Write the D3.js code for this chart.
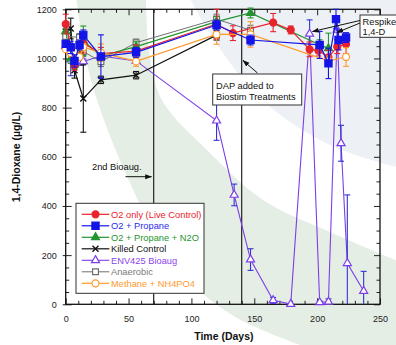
<!DOCTYPE html>
<html><head><meta charset="utf-8">
<script src="https://cdn.jsdelivr.net/npm/d3@7"></script>
<style>body{margin:0;background:#fff;} svg{display:block;font-family:"Liberation Sans",Arial,sans-serif;}</style>
</head><body><svg id="c" width="396" height="345"></svg>
<script>
// ---- data ----
const xTickLabels = [0, 50, 100, 150, 200, 250];
const yTickLabels = [0, 200, 400, 600, 800, 1000, 1200];

const o2Days = [0, 7, 14, 28, 56, 120, 133, 165, 179, 194, 201, 209, 216, 223];
const o2Vals = [1140, 972, 1062, 1020, 1030, 1140, 1103, 1146, 1116, 1037, 1032, 1005, 1048, 1058];
const o2Err  = [40, 20, 40, 25, 25, 60, 30, 37, 16, 30, 22, 28, 28, 40];

const propDays = [0, 4, 7, 11, 14, 28, 56, 120, 147, 202, 209, 215, 217, 223];
const propVals = [1060, 1045, 990, 1055, 1096, 1008, 1025, 1136, 1075, 1055, 980, 1160, 1075, 1085];
const propErr  = [0, 25, 25, 20, 20, 88, 20, 20, 20, 55, 62, 40, 40, 20];

const n2oDays = [0, 4, 7, 11, 14, 28, 56, 120, 147, 202, 209];
const n2oVals = [1110, 1000, 975, 1028, 1072, 1010, 1048, 1150, 1185, 1056, 1041];
const n2oErr  = [0, 20, 20, 20, 60, 20, 20, 20, 20, 20, 62];

const killDays = [0, 4, 7, 14, 28, 56, 120];
const killVals = [1110, 1122, 952, 837, 913, 932, 1095];
const killErr  = [20, 42, 32, 137, 15, 15, 20];

const envDays = [0, 4, 7, 11, 14, 28, 56, 120, 134, 147, 165, 179, 194, 202, 209, 216, 219, 224, 237];
const envVals = [1050, 995, 987, 983, 988, 1010, 990, 747, 445, 182, 16, 1, 1100, 8, 10, 1117, 655, 167, 54];
const envErr  = [0, 65, 20, 10, 10, 0, 0, 80, 44, 44, 12, 0, 57, 5, 12, 40, 73, 278, 80];

const anaDays = [0, 11, 14, 28, 56, 120, 147];
const anaVals = [1090, 1086, 1028, 987, 1064, 1160, 1115];
const anaErr  = [20, 15, 20, 20, 15, 20, 20];

const methDays = [0, 4, 7, 11, 14, 28, 56, 120, 147, 209, 223];
const methVals = [1038, 1022, 1028, 1006, 1046, 1024, 988, 1098, 1098, 990, 1006];
const methErr  = [0, 15, 15, 10, 15, 35, 20, 40, 52, 20, 38];

const seriesNames = ["O2 only (Live Control)", "O2 + Propane", "O2 + Propane + N2O", "Killed Control", "ENV425 Bioaug", "Anaerobic", "Methane + NH4PO4"];

const series = [
  {name: seriesNames[0], d: o2Days, v: o2Vals, e: o2Err, color: "#e8232b", ecolor: "#e8232b", text: "#e8232b", sym: d3.symbolCircle, size: 38, fill: true, lw: 1.2},
  {name: seriesNames[1], d: propDays, v: propVals, e: propErr, color: "#1414e6", ecolor: "#1414e6", text: "#2a2af0", sym: d3.symbolSquare, size: 52, fill: true, lw: 1.2},
  {name: seriesNames[2], d: n2oDays, v: n2oVals, e: n2oErr, color: "#23942f", ecolor: "#23942f", text: "#23942f", sym: d3.symbolTriangle, size: 28, fill: true, lw: 1.2},
  {name: seriesNames[3], d: killDays, v: killVals, e: killErr, color: "#111", ecolor: "#111", text: "#111", sym: d3.symbolCross, size: 0, fill: false, lw: 1.2, xmark: true},
  {name: seriesNames[4], d: envDays, v: envVals, e: envErr, color: "#7d3ee6", ecolor: "#3333d6", text: "#8a44ee", sym: d3.symbolTriangle, size: 28, fill: false, lw: 1.1},
  {name: seriesNames[5], d: anaDays, v: anaVals, e: anaErr, color: "#707070", ecolor: "#707070", text: "#7a7a7a", sym: d3.symbolSquare, size: 34, fill: false, lw: 1.0},
  {name: seriesNames[6], d: methDays, v: methVals, e: methErr, color: "#ff9a2e", ecolor: "#ff9a2e", text: "#ff9a2e", sym: d3.symbolCircle, size: 38, fill: false, lw: 1.2}
];
const drawOrder = [4, 3, 5, 2, 0, 6, 1];

// ---- layout ----
const svg = d3.select("#c");
const x = d3.scaleLinear().domain([0, 250]).range([65.7, 380]);
const y = d3.scaleLinear().domain([0, 1200]).range([304.3, 9.3]);
const X0 = x(0), X1 = x(250), Y0 = y(0), Y1 = y(1200);

// background swooshes
const curve = d3.line().curve(d3.curveCatmullRom);
const greenLower = [[76,-5],[84,50],[97,100],[130,183],[172,262],[232,315],[320,352]];
const greenUpper = [[400,262],[330,232],[263,200],[207,150],[162,100],[149,50],[146,-5]];
svg.append("path")
  .attr("d", curve(greenLower) + "L400,352" + curve(greenUpper).replace("M","L") + "Z")
  .attr("fill", "#e5eee5");
const blueEdge = [[188,-5],[214,40],[262,100],[330,145],[400,168]];
svg.append("path")
  .attr("d", curve(blueEdge) + "L400,-5Z")
  .attr("fill", "#edf1f5");

// axes
const g = svg.append("g");
const minorY = d3.range(0, 1201, 50).filter(v => v % 200 !== 0);
const minorX = d3.range(0, 251, 10).filter(v => v % 50 !== 0);
const fmt = d3.format("d");

g.append("g").attr("transform", `translate(${X0},0)`)
  .call(d3.axisLeft(y).tickValues(yTickLabels).tickFormat(fmt).tickSizeInner(-6).tickSizeOuter(0).tickPadding(9))
  .call(a => a.select(".domain").remove())
  .call(a => a.selectAll("text").attr("font-size", 9).attr("fill", "#222"));
g.append("g").attr("transform", `translate(${X0},0)`)
  .call(d3.axisLeft(y).tickValues(yTickLabels).tickSize(3).tickFormat(""))
  .call(a => a.select(".domain").remove());
g.append("g").attr("transform", `translate(${X0},0)`)
  .call(d3.axisLeft(y).tickValues(minorY).tickSize(-3.5).tickFormat(""))
  .call(a => a.select(".domain").remove());
g.append("g").attr("transform", `translate(${X1},0)`)
  .call(d3.axisRight(y).tickValues(yTickLabels).tickSize(-6).tickFormat(""))
  .call(a => a.select(".domain").remove());
g.append("g").attr("transform", `translate(${X1},0)`)
  .call(d3.axisRight(y).tickValues(minorY).tickSize(-3.5).tickFormat(""))
  .call(a => a.select(".domain").remove());

g.append("g").attr("transform", `translate(0,${Y0})`)
  .call(d3.axisBottom(x).tickValues(xTickLabels).tickFormat(fmt).tickSizeInner(-6).tickSizeOuter(0).tickPadding(11))
  .call(a => a.select(".domain").remove())
  .call(a => a.selectAll("text").attr("font-size", 9).attr("fill", "#222"));
g.append("g").attr("transform", `translate(0,${Y0})`)
  .call(d3.axisBottom(x).tickValues(minorX).tickSize(-3.5).tickFormat(""))
  .call(a => a.select(".domain").remove());
g.append("g").attr("transform", `translate(0,${Y1})`)
  .call(d3.axisTop(x).tickValues(xTickLabels).tickSize(-6).tickFormat(""))
  .call(a => a.select(".domain").remove());
g.append("g").attr("transform", `translate(0,${Y1})`)
  .call(d3.axisTop(x).tickValues(minorX).tickSize(-3.5).tickFormat(""))
  .call(a => a.select(".domain").remove());
g.selectAll(".tick line").attr("stroke", "#222");

// vertical event lines
[70, 140].forEach(d => {
  svg.append("line").attr("x1", x(d)).attr("x2", x(d)).attr("y1", Y1).attr("y2", Y0)
    .attr("stroke", "#111").attr("stroke-width", 1.1);
});

// frame
svg.append("rect").attr("x", X0).attr("y", Y1).attr("width", X1 - X0).attr("height", Y0 - Y1)
  .attr("fill", "none").attr("stroke", "#111").attr("stroke-width", 1.3);

// axis titles
svg.append("text").attr("x", (X0 + X1) / 2 + 1).attr("y", 340)
  .attr("text-anchor", "middle").attr("font-size", 10.5).attr("font-weight", "bold").attr("fill", "#111")
  .text("Time (Days)");
svg.append("text").attr("transform", "translate(20,157) rotate(-90)")
  .attr("text-anchor", "middle").attr("font-size", 10.5).attr("font-weight", "bold").attr("fill", "#111")
  .text("1,4-Dioxane (µg/L)");

// arrowhead marker
const defs = svg.append("defs");
defs.append("marker").attr("id", "ah").attr("viewBox", "0 0 10 10").attr("refX", 9).attr("refY", 5)
  .attr("markerWidth", 7).attr("markerHeight", 7).attr("orient", "auto")
  .append("path").attr("d", "M0,1.5L10,5L0,8.5Z").attr("fill", "#111");

function arrow(x1, y1, x2, y2) {
  svg.append("line").attr("x1", x1).attr("y1", y1).attr("x2", x2).attr("y2", y2)
    .attr("stroke", "#111").attr("stroke-width", 1).attr("marker-end", "url(#ah)");
}

// series
function markerPath(s) {
  if (s.xmark) return "M-3,-3L3,3M-3,3L3,-3";
  return d3.symbol().type(s.sym).size(s.size)();
}
drawOrder.forEach(i => {
  const s = series[i];
  const pts = s.d.map((d, k) => ({d, v: s.v[k], e: s.e[k]}));
  const sg = svg.append("g");
  sg.append("path").datum(pts)
    .attr("d", d3.line().x(p => x(p.d)).y(p => y(p.v)))
    .attr("fill", "none").attr("stroke", s.color).attr("stroke-width", s.lw);
  pts.filter(p => p.e > 0).forEach(p => {
    const lo = y(Math.max(0, p.v - p.e)), hi = y(p.v + p.e), cx = x(p.d);
    sg.append("line").attr("x1", cx).attr("x2", cx).attr("y1", lo).attr("y2", hi)
      .attr("stroke", s.ecolor).attr("stroke-width", 1.1);
    [lo, hi].forEach(yy => {
      if (Math.abs(yy - Y0) < 0.5) return;
      sg.append("line").attr("x1", cx - 3).attr("x2", cx + 3).attr("y1", yy).attr("y2", yy)
        .attr("stroke", s.ecolor).attr("stroke-width", 1.1);
    });
  });
  sg.selectAll("path.m").data(pts).join("path").attr("class", "m")
    .attr("d", markerPath(s))
    .attr("transform", p => `translate(${x(p.d)},${y(p.v)})`)
    .attr("fill", s.xmark ? "none" : (s.fill ? s.color : "#fff"))
    .attr("stroke", s.color).attr("stroke-width", s.xmark ? 1.4 : 1.2);
});

// annotations
svg.append("text").attr("x", 92).attr("y", 170).attr("font-size", 9.3).attr("fill", "#111").text("2nd Bioaug.");
arrow(125.5, 176.7, 151.5, 176.7);

svg.append("rect").attr("x", 212.7).attr("y", 74).attr("width", 89).attr("height", 31)
  .attr("fill", "#fff").attr("stroke", "#333").attr("stroke-width", 1);
svg.append("text").attr("x", 216).attr("y", 88.5).attr("font-size", 9.3).attr("fill", "#111").text("DAP added to");
svg.append("text").attr("x", 216).attr("y", 99.5).attr("font-size", 9.3).attr("fill", "#111").text("Biostim Treatments");
arrow(257.5, 73, 243, 60.5);

svg.append("rect").attr("x", 360).attr("y", 15).attr("width", 40).attr("height", 22.3)
  .attr("fill", "#fff").attr("stroke", "#333").attr("stroke-width", 1);
svg.append("text").attr("x", 362.5).attr("y", 24.8).attr("font-size", 9.3).attr("fill", "#111").text("Respike");
svg.append("text").attr("x", 362.5).attr("y", 35).attr("font-size", 9.3).attr("fill", "#111").text("1,4-D");
arrow(360, 20.5, 312.5, 31.5);
arrow(360, 23, 337, 32.5);

// legend
const lg = svg.append("g");
lg.append("rect").attr("x", 76).attr("y", 203.3).attr("width", 128).attr("height", 90)
  .attr("fill", "#fff").attr("stroke", "#333").attr("stroke-width", 1);
const legY = d3.scaleLinear().domain([0, 6]).range([214.3, 283.3]);
series.forEach((s, i) => {
  const yy = legY(i);
  lg.append("line").attr("x1", 81.7).attr("x2", 109.3).attr("y1", yy).attr("y2", yy)
    .attr("stroke", s.color).attr("stroke-width", s.lw);
  lg.append("path").attr("d", markerPath(s)).attr("transform", `translate(95.5,${yy})`)
    .attr("fill", s.xmark ? "none" : (s.fill ? s.color : "#fff"))
    .attr("stroke", s.color).attr("stroke-width", s.xmark ? 1.4 : 1.2);
  lg.append("text").attr("x", 111).attr("y", yy).attr("dy", "0.35em")
    .attr("font-size", 9.3).attr("fill", s.text).text(s.name);
});
</script></body></html>
